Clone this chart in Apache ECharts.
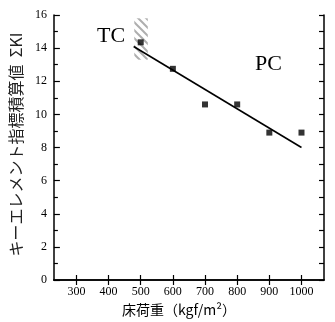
<!DOCTYPE html>
<html>
<head>
<meta charset="utf-8">
<script src="https://cdn.jsdelivr.net/npm/echarts@6/dist/echarts.min.js"></script>
<style>
  html, body { margin: 0; padding: 0; background: #fff; }
  #chart { width: 335px; height: 322px; }
</style>
</head>
<body>
<div id="chart"></div>
<script>
// floor load vs. key element index
var loadValues = [500, 600, 700, 800, 900, 1000];
var kiValues = [14.35, 12.75, 10.6, 10.6, 8.9, 8.9];
var trendX = [478, 1000];
var trendY = [14.1, 8.0];
var xTicks = [300, 400, 500, 600, 700, 800, 900, 1000];
var hatchX = [480, 522];
var hatchY = [13.3, 15.8];

var serif = '"Liberation Serif", "DejaVu Serif", serif';
var jp = '"Noto Sans CJK JP", sans-serif';

// hatch pattern for the TC/PC boundary band
var pat = document.createElement('canvas');
pat.width = 8; pat.height = 8;
var pc = pat.getContext('2d');
pc.strokeStyle = 'rgba(140,140,140,0.7)';
pc.lineWidth = 2;
pc.beginPath();
pc.moveTo(0, 0); pc.lineTo(8, 8);
pc.moveTo(-4, 4); pc.lineTo(4, 12);
pc.moveTo(4, -4); pc.lineTo(12, 4);
pc.stroke();

var points = loadValues.map(function (x, i) { return [x, kiValues[i]]; });
var trend = trendX.map(function (x, i) { return [x, trendY[i]]; });

var axisLine = { lineStyle: { color: '#000', width: 1.5 } };

var option = {
    backgroundColor: '#fff',
    animation: false,
    grid: { left: 49, right: 11, top: 15, bottom: 32 },
    xAxis: [
        {
            type: 'value',
            min: 230,
            max: 1070,
            axisLine: axisLine,
            splitLine: { show: false },
            axisTick: { inside: true, length: 5, customValues: xTicks, lineStyle: { color: '#000', width: 1.2 } },
            axisLabel: {
                customValues: xTicks, color: '#000', fontFamily: serif, fontSize: 12, margin: 6,
                formatter: function (v) { return String(v); }
            },
            name: '床荷重（kgf/m²）',
            nameLocation: 'middle',
            nameGap: 23,
            nameTextStyle: { color: '#000', fontFamily: jp, fontSize: 14, padding: [0, 20, 0, 0] }
        },
        {
            type: 'value',
            position: 'top',
            min: 230,
            max: 1070,
            axisLine: axisLine,
            splitLine: { show: false },
            axisTick: { inside: true, length: 5, customValues: xTicks, lineStyle: { color: '#000', width: 1.2 } },
            axisLabel: { show: false }
        }
    ],
    yAxis: [
        {
            type: 'value',
            min: 0,
            max: 16,
            interval: 2,
            axisLine: Object.assign({ show: true }, axisLine),
            splitLine: { show: false },
            axisTick: { inside: true, length: 6, lineStyle: { color: '#000', width: 1.2 } },
            minorTick: { show: true, splitNumber: 2, length: 4, lineStyle: { color: '#000', width: 1.2 } },
            axisLabel: { color: '#000', fontFamily: serif, fontSize: 12, margin: 7 },
            name: 'キーエレメント指標積算値  ΣKI',
            nameLocation: 'middle',
            nameGap: 26,
            nameTextStyle: { color: '#222', fontFamily: jp, fontSize: 16, padding: [0, 0, 0, 6] }
        },
        {
            type: 'value',
            position: 'right',
            min: 0,
            max: 16,
            interval: 1,
            axisLine: Object.assign({ show: true }, axisLine),
            splitLine: { show: false },
            axisTick: { inside: true, length: 5, lineStyle: { color: '#000', width: 1.2 } },
            axisLabel: { show: false }
        }
    ],
    graphic: [
        { type: 'text', left: 97, top: 25, style: { text: 'TC', font: '22px ' + serif, fill: '#000' } },
        { type: 'text', left: 255, top: 53, style: { text: 'PC', font: '22px ' + serif, fill: '#000' } }
    ],
    series: [
        {
            type: 'scatter',
            data: points,
            symbol: 'rect',
            symbolSize: 6,
            itemStyle: { color: '#000' },
            z: 5,
            markArea: {
                silent: true,
                itemStyle: { color: { image: pat, repeat: 'repeat' } },
                data: [[{ coord: [hatchX[0], hatchY[0]] }, { coord: [hatchX[1], hatchY[1]] }]]
            }
        },
        {
            type: 'line',
            data: trend,
            showSymbol: false,
            lineStyle: { color: '#000', width: 1.6 },
            z: 4
        }
    ]
};

var myChart = echarts.init(document.getElementById('chart'));
myChart.setOption(option);
</script>
</body>
</html>
